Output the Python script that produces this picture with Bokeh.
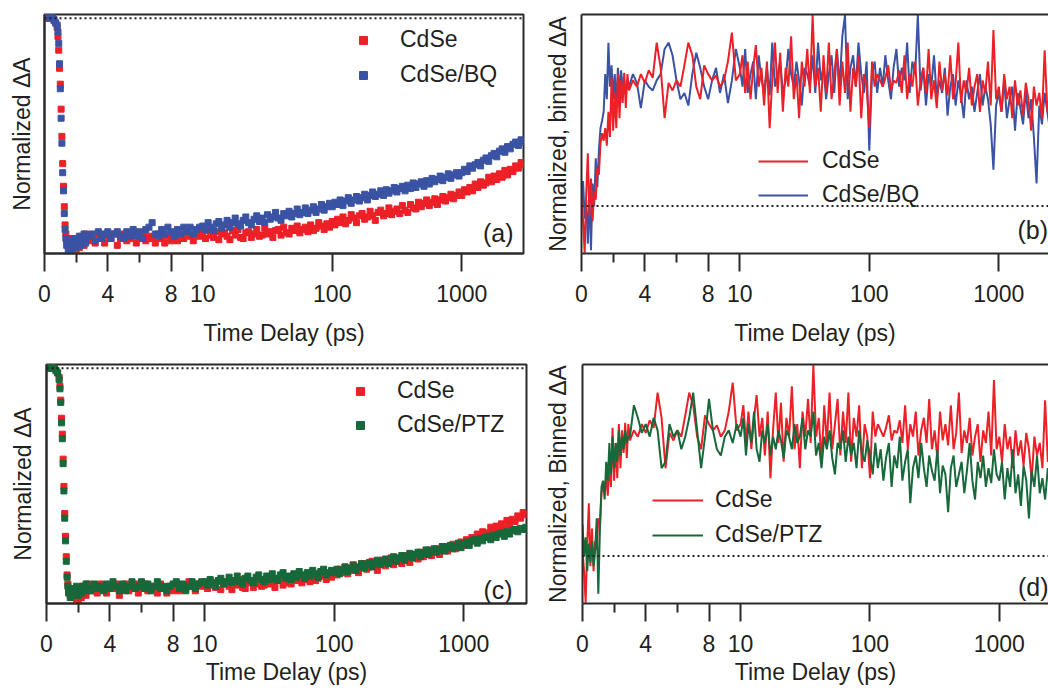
import numpy as np
from bokeh.plotting import figure
from bokeh.models import (ColumnDataSource, FixedTicker, CustomJSTickFormatter,
                          CustomJSTransform, Span, Label, Legend, LegendItem,
                          LinearAxis, Range1d)
from bokeh.transform import transform
from bokeh.layouts import column, row
from bokeh.embed import file_html
from bokeh.resources import INLINE

# ---------------- data (time in ps) ----------------
t_early_scatter = [0.0, 0.1, 0.2, 0.3, 0.4, 0.5, 0.6, 0.7, 0.8,
                   0.85, 0.9, 0.95, 1.0, 1.05, 1.1, 1.15, 1.2, 1.25, 1.3, 1.35,
                   1.4, 1.5, 1.6, 1.7, 1.8, 1.9, 2.0, 2.1, 2.2, 2.3, 2.4, 2.5, 2.6,
                   2.8, 3.0, 3.2, 3.4, 3.6, 3.8, 4.0, 4.2, 4.4, 4.6, 4.8, 5.0, 5.2, 5.4,
                   5.6, 5.8, 6.0, 6.2, 6.4, 6.6, 6.8, 7.0, 7.2, 7.4, 7.6, 7.8, 8.0, 8.2,
                   8.4, 8.6, 8.8, 9.0, 9.2, 9.4, 9.6, 9.8]

t_early_binned = [0.0, 0.1, 0.2, 0.3, 0.4, 0.5, 0.6, 0.7, 0.8, 0.9, 1.0,
                  1.1, 1.2, 1.3, 1.4, 1.5, 1.6, 1.7, 1.8, 1.9, 2.0,
                  2.1, 2.2, 2.3, 2.4, 2.5, 2.6, 2.7, 2.8, 2.9, 3.0,
                  3.25, 3.5, 3.75, 4.0, 4.25, 4.5, 4.75, 5.0, 5.25, 5.5, 5.75, 6.0,
                  6.25, 6.5, 6.75, 7.0, 7.25, 7.5, 7.75, 8.0, 8.25, 8.5, 8.75, 9.0,
                  9.25, 9.5, 9.75]

t_late = [10.0, 10.5, 11.0, 11.5, 12.1, 12.7, 13.3, 14.0, 14.7, 15.4,
          16.2, 17.0, 17.8, 18.7, 19.6, 20.5, 21.5, 22.6, 23.7, 24.9,
          26.1, 27.4, 28.7, 30.1, 31.6, 33.2, 34.8, 36.5, 38.3, 40.2,
          42.2, 44.3, 46.4, 48.7, 51.1, 53.6, 56.2, 59.0, 61.9, 64.9,
          68.1, 71.5, 75.0, 78.7, 82.5, 86.6, 90.9, 95.3,
          100, 105, 110, 115, 121, 127, 133, 140, 147, 154,
          162, 170, 178, 187, 196, 205, 215, 226, 237, 249,
          261, 274, 287, 301, 316, 332, 348, 365, 383, 402,
          422, 443, 464, 487, 511, 536, 562, 590, 619, 649,
          681, 715, 750, 787, 825, 866, 909, 953,
          1000, 1049, 1101, 1155, 1212, 1271, 1334, 1399, 1468, 1540,
          1616, 1695, 1778, 1866, 1957, 2054, 2154, 2260, 2371, 2488,
          2610, 2738, 2873, 3014]

# normalized dA (panels a, c)
cdse_early = [0.01, 0.0, 0.015, 0.02, 0.005, 0.0, -0.01, -0.02, -0.04,
              -0.08, -0.14, -0.22, -0.29, -0.40, -0.52, -0.64, -0.74, -0.83, -0.91, -0.95,
              -0.98, -1.0, -0.97, -1.01, -0.98, -1.02, -1.03, -0.98, -1.01, -0.96, -0.99, -1.0, -0.95,
              -0.98, -0.96, -0.99, -0.95, -0.97, -0.99, -0.96, -0.97, -0.95, -1.0, -0.97, -0.95,
              -0.98, -0.97, -0.95, -0.99, -0.97, -0.95, -0.98, -0.96, -0.97, -0.99, -0.95, -0.97,
              -0.99, -0.96, -0.98, -0.95, -0.98, -0.96, -0.97, -0.94, -0.96, -0.98, -0.95, -0.96]
cdse_late = [-0.945, -0.97, -0.935, -0.955, -0.965, -0.94, -0.975, -0.95, -0.945, -0.96,
             -0.975, -0.935, -0.955, -0.93, -0.965, -0.97, -0.945, -0.94, -0.965, -0.95,
             -0.93, -0.96, -0.955, -0.925, -0.95, -0.94, -0.965, -0.935, -0.93, -0.955,
             -0.92, -0.945, -0.95, -0.925, -0.935, -0.915, -0.945, -0.93, -0.92, -0.94,
             -0.91, -0.935, -0.925, -0.9, -0.915, -0.93, -0.905, -0.92,
             -0.895, -0.91, -0.885, -0.9, -0.875, -0.905, -0.89, -0.865, -0.88, -0.9,
             -0.87, -0.86, -0.885, -0.875, -0.85, -0.87, -0.89, -0.855, -0.845, -0.87,
             -0.86, -0.835, -0.865, -0.85, -0.84, -0.86, -0.825, -0.845, -0.855, -0.82,
             -0.835, -0.84, -0.81, -0.83, -0.815, -0.8, -0.825, -0.81, -0.795, -0.82,
             -0.8, -0.785, -0.805, -0.79, -0.775, -0.795, -0.78, -0.765,
             -0.78, -0.755, -0.765, -0.745, -0.76, -0.73, -0.745, -0.72, -0.735, -0.725,
             -0.7, -0.72, -0.695, -0.71, -0.685, -0.7, -0.67, -0.69, -0.665, -0.675,
             -0.65, -0.66, -0.635, -0.645]

bq_early = [0.015, 0.02, 0.01, 0.0, 0.01, 0.005, -0.005, -0.02, -0.03,
            -0.06, -0.11, -0.20, -0.31, -0.44, -0.55, -0.68, -0.76, -0.86, -0.93, -0.97,
            -1.0, -1.02, -0.98, -1.03, -1.0, -0.97, -1.01, -0.99, -0.96, -1.0, -0.97, -0.95, -0.99,
            -0.96, -0.95, -0.98, -0.94, -0.97, -0.95, -0.94, -0.97, -0.95, -0.94, -0.96, -0.97,
            -0.94, -0.96, -0.93, -0.96, -0.94, -0.97, -0.93, -0.92, -0.90, -0.95, -0.96, -0.93,
            -0.95, -0.92, -0.94, -0.96, -0.93, -0.95, -0.92, -0.94, -0.92, -0.95, -0.93, -0.92]
bq_late = [-0.915, -0.93, -0.9, -0.92, -0.935, -0.905, -0.895, -0.925, -0.91, -0.89,
           -0.92, -0.9, -0.88, -0.905, -0.915, -0.89, -0.875, -0.9, -0.91, -0.885,
           -0.87, -0.895, -0.88, -0.9, -0.865, -0.885, -0.875, -0.855, -0.88, -0.89,
           -0.86, -0.87, -0.85, -0.875, -0.86, -0.84, -0.865, -0.855, -0.835, -0.86,
           -0.845, -0.83, -0.855, -0.84, -0.82, -0.845, -0.83, -0.815,
           -0.83, -0.81, -0.82, -0.8, -0.825, -0.805, -0.79, -0.815, -0.8, -0.785,
           -0.805, -0.79, -0.775, -0.8, -0.78, -0.765, -0.785, -0.775, -0.76, -0.78,
           -0.755, -0.77, -0.76, -0.745, -0.765, -0.75, -0.74, -0.76, -0.735, -0.75,
           -0.725, -0.745, -0.73, -0.72, -0.74, -0.715, -0.73, -0.705, -0.72, -0.71,
           -0.695, -0.715, -0.7, -0.685, -0.705, -0.69, -0.68, -0.695,
           -0.68, -0.665, -0.675, -0.65, -0.66, -0.645, -0.635, -0.65, -0.625, -0.615,
           -0.63, -0.605, -0.595, -0.61, -0.585, -0.575, -0.59, -0.565, -0.575, -0.555,
           -0.545, -0.56, -0.535, -0.545]

ptz_early = [0.01, 0.015, 0.0, 0.01, 0.005, 0.0, -0.01, -0.02, -0.05,
             -0.09, -0.15, -0.24, -0.31, -0.42, -0.54, -0.66, -0.76, -0.85, -0.92, -0.96,
             -0.99, -1.01, -0.97, -1.0, -0.98, -0.96, -1.0, -0.97, -0.99, -0.96, -0.98, -0.95, -0.97,
             -0.98, -0.95, -0.97, -0.96, -0.98, -0.95, -0.97, -0.94, -0.96, -0.98, -0.95, -0.98,
             -0.96, -0.94, -0.97, -0.96, -0.94, -0.97, -0.95, -0.98, -0.96, -0.94, -0.97, -0.96,
             -0.98, -0.96, -0.95, -0.94, -0.97, -0.95, -0.98, -0.96, -0.94, -0.97, -0.95, -0.94]
ptz_late = [-0.94, -0.955, -0.93, -0.945, -0.96, -0.935, -0.925, -0.95, -0.94, -0.92,
            -0.945, -0.935, -0.915, -0.94, -0.95, -0.925, -0.915, -0.935, -0.945, -0.92,
            -0.91, -0.93, -0.94, -0.915, -0.93, -0.905, -0.925, -0.935, -0.91, -0.9,
            -0.925, -0.915, -0.93, -0.905, -0.92, -0.895, -0.91, -0.925, -0.9, -0.915,
            -0.89, -0.905, -0.92, -0.895, -0.885, -0.91, -0.9, -0.89,
            -0.9, -0.885, -0.905, -0.89, -0.875, -0.895, -0.88, -0.87, -0.89, -0.875,
            -0.86, -0.88, -0.865, -0.855, -0.875, -0.86, -0.845, -0.865, -0.85, -0.84,
            -0.86, -0.845, -0.83, -0.85, -0.835, -0.825, -0.845, -0.83, -0.815, -0.835,
            -0.82, -0.81, -0.83, -0.815, -0.8, -0.82, -0.805, -0.795, -0.81, -0.8,
            -0.785, -0.805, -0.79, -0.78, -0.795, -0.785, -0.77, -0.79,
            -0.775, -0.765, -0.78, -0.76, -0.755, -0.77, -0.75, -0.76, -0.745, -0.74,
            -0.755, -0.735, -0.745, -0.73, -0.725, -0.74, -0.72, -0.73, -0.715, -0.71,
            -0.72, -0.705, -0.71, -0.7]

# normalized, binned dA (panels b, d)
cdse_bin_early = [0.05, -0.12, -0.37, 0.1, 0.42, -0.08, 0.22, -0.12, 0.12, 0.05, 0.3,
                  0.25, 0.5, 0.58, 0.52, 0.62, 0.48, 0.75, 0.55, 1.02, 0.6,
                  0.9, 0.62, 1.05, 0.7, 1.0, 0.82, 1.06, 0.78, 1.05, 0.92,
                  1.0, 0.95, 1.05, 0.98, 1.08, 1.02, 1.3, 1.1, 0.7, 0.98, 0.92, 1.0,
                  0.95, 1.12, 1.3, 1.2, 0.95, 0.85, 1.12, 1.05, 1.0, 1.04, 0.95, 1.0,
                  1.15, 1.38, 1.0]
cdse_bin_late = [1.05, 1.2, 0.9, 1.15, 0.85, 1.1, 1.28, 0.95, 1.1, 0.8,
                 1.15, 0.62, 1.0, 1.3, 0.9, 1.22, 0.75, 1.1, 0.95, 1.35,
                 0.85, 1.05, 0.7, 1.15, 0.95, 1.25, 0.9, 1.52, 0.95, 1.1,
                 0.75, 1.2, 0.9, 1.3, 0.85, 1.05, 1.25, 0.8, 1.15, 0.9,
                 1.3, 0.75, 1.1, 0.95, 1.2, 0.7, 1.05, 0.95,
                 0.62, 1.15, 0.95, 1.05, 1.0, 0.95, 1.02, 1.12, 0.92, 1.0,
                 0.98, 1.08, 0.9, 1.2, 0.85, 1.05, 0.95, 1.15, 0.8, 1.0,
                 1.1, 0.9, 1.25, 0.85, 1.0, 0.78, 1.15, 0.92, 1.05, 0.88,
                 1.2, 0.85, 0.98, 1.3, 0.82, 1.0, 0.9, 1.1, 0.8, 0.95,
                 1.05, 0.75, 1.0, 0.9, 1.15, 0.8, 1.4, 0.85,
                 0.95, 0.75, 1.05, 0.85, 0.95, 0.7, 1.0, 0.8, 0.92, 0.72,
                 0.98, 0.85, 0.6, 0.95, 0.8, 0.9, 0.7, 1.24, 0.75, 0.9,
                 0.85, 0.8, 0.9, 0.85]

bq_bin_early = [0.0, 0.2, -0.1, 0.05, -0.3, 0.1, -0.35, 0.18, 0.0, 0.38, 0.15,
                0.45, 0.62, 0.68, 0.75, 1.05, 0.85, 1.3, 0.95, 1.12, 0.85,
                1.05, 0.8, 1.1, 0.9, 1.08, 0.95, 1.0, 0.9, 1.0, 0.95,
                1.05, 0.98, 0.78, 1.0, 0.95, 0.92, 1.0, 1.05, 1.25, 1.3, 1.2, 1.0,
                0.85, 0.9, 0.8, 1.05, 1.22, 1.1, 0.95, 0.85, 1.0, 1.1, 0.9, 1.05,
                0.82, 1.0, 1.25]
bq_bin_late = [1.1, 0.95, 1.25, 0.9, 1.05, 1.15, 0.85, 1.2, 1.0, 0.92,
               1.1, 0.88, 1.3, 0.95, 1.05, 1.15, 0.9, 1.0, 1.25, 1.05,
               0.95, 1.15, 1.0, 0.8, 1.1, 1.05, 0.95, 1.2, 0.9, 1.3,
               1.0, 1.1, 0.85, 1.05, 1.2, 0.9, 1.25, 0.95, 1.35, 1.52,
               0.85, 1.1, 1.2, 0.95, 1.3, 1.05, 0.9, 1.15,
               0.44, 1.05, 1.15, 0.9, 1.1, 0.95, 1.2, 1.0, 0.85, 1.1,
               1.25, 0.95, 1.1, 1.0, 1.3, 0.9, 1.15, 1.05, 1.52, 0.92,
               1.1, 0.8, 1.05, 0.95, 1.2, 0.85, 1.0, 0.9, 1.1, 0.72,
               0.95, 1.05, 0.8, 1.0, 0.88, 0.7, 1.0, 0.85, 0.95, 0.75,
               0.9, 1.05, 0.8, 0.95, 0.85, 0.65, 0.29, 0.8,
               0.9, 0.75, 1.0, 0.7, 0.85, 0.95, 0.6, 0.9, 0.78, 0.65,
               0.92, 0.7, 0.85, 0.55, 0.18, 0.8, 0.65, 0.9, 0.75, 0.6,
               0.85, 0.7, 0.8, 0.75]

ptz_bin_early = [0.25, 0.0, 0.15, -0.12, 0.1, -0.05, 0.12, -0.08, 0.05, 0.3, -0.3,
                 0.2, 0.55, 0.6, 0.45, 0.75, 0.6, 0.9, 0.65, 0.95, 0.7,
                 0.9, 0.75, 1.0, 0.8, 0.95, 0.85, 1.0, 0.9, 0.95, 0.95,
                 1.2, 1.1, 0.98, 1.05, 0.95, 1.1, 1.0, 0.7, 0.75, 1.05, 0.95, 1.0,
                 0.85, 0.95, 1.1, 1.3, 1.0, 0.7, 0.95, 1.25, 1.0, 0.85, 0.8, 0.95,
                 1.0, 0.9, 1.05]
ptz_bin_late = [0.95, 1.1, 0.8, 1.05, 0.9, 1.15, 0.85, 0.75, 1.0, 0.9,
                1.05, 0.8, 0.95, 0.85, 1.0, 0.92, 0.78, 1.0, 0.95, 0.85,
                1.05, 0.9, 0.95, 1.1, 0.85, 1.0, 0.95, 1.15, 0.8, 0.9,
                0.7, 0.95, 0.85, 1.0, 0.78, 0.65, 0.9, 0.85, 1.0, 0.75,
                0.95, 0.8, 0.9, 0.7, 1.0, 0.82, 0.75, 0.92,
                0.8, 0.65, 0.9, 0.7, 0.85, 0.6, 0.78, 0.9, 0.55, 0.8,
                0.7, 0.95, 0.6, 0.75, 0.85, 0.42, 0.7, 0.8, 0.62, 0.9,
                0.7, 0.55, 0.8, 0.68, 0.6, 0.85, 0.5, 0.72, 0.65, 0.35,
                0.7, 0.8, 0.55, 0.65, 0.75, 0.5, 0.68, 0.9, 0.6, 0.45,
                0.75, 0.62, 0.8, 0.55, 0.7, 0.58, 0.85, 0.65,
                0.6, 0.75, 0.45, 0.7, 0.55, 0.85, 0.5, 0.65, 0.4, 0.72,
                0.6, 0.3, 0.68, 0.55, 0.8, 0.5, 0.62, 0.45, 0.7, 0.55,
                0.6, 0.5, 0.65, 0.55]

tick_values = [0, 4, 8, 10, 100, 1000]
minor_tick_values = [2, 6]

# ---------------- styling ----------------
FONT = "Liberation Sans"
FS = "23px"
INK = "#231f20"
FRAME = "#2a2a2a"
RED = "#ec2027"
BLUE = "#3a53a4"
GREEN = "#17683a"
K = 8.18   # axis units per decade after the break at 10 ps


def pos(t):
    return float(t) if t <= 10 else 10.0 + K * float(np.log10(t / 10.0))


brk = CustomJSTransform(
    args=dict(k=K),
    func="return x <= 10 ? x : 10 + k * Math.log10(x / 10);",
    v_func="""
const out = new Array(xs.length);
for (let i = 0; i < xs.length; i++) {
  const t = xs[i];
  out[i] = t <= 10 ? t : 10 + k * Math.log10(t / 10);
}
return out;
""")


def src(t, v):
    n = min(len(t), len(v))
    return ColumnDataSource(data=dict(t=list(t[:n]), v=list(v[:n])))


def panel(width, height, mbl, mbr, mbt, mbb, t_end, yr, ylabel, ystand, xstand, closed):
    p = figure(width=width, height=height, x_range=Range1d(0, pos(t_end)),
               y_range=Range1d(*yr), output_backend="svg", toolbar_location=None,
               title=None, min_border_left=mbl, min_border_right=mbr,
               min_border_top=mbt, min_border_bottom=mbb)
    p.xgrid.visible = False
    p.ygrid.visible = False
    p.background_fill_color = "white"
    p.border_fill_color = "white"
    if closed:
        p.outline_line_color = FRAME
        p.outline_line_width = 2
        p.outline_line_alpha = 1.0
    else:
        p.outline_line_color = None
    xa = p.below[0]
    xa.ticker = FixedTicker(ticks=[pos(t) for t in tick_values],
                            minor_ticks=[pos(t) for t in minor_tick_values])
    xa.formatter = CustomJSTickFormatter(args=dict(k=K), code="""
if (tick <= 10.0001) { return tick.toFixed(0); }
return (10 * Math.pow(10, (tick - 10) / k)).toFixed(0);
""")
    xa.axis_label = "Time Delay (ps)"
    xa.axis_label_text_font = FONT
    xa.axis_label_text_font_size = FS
    xa.axis_label_text_font_style = "normal"
    xa.axis_label_text_color = INK
    xa.axis_label_standoff = xstand
    xa.major_label_text_font = FONT
    xa.major_label_text_font_size = FS
    xa.major_label_text_color = INK
    xa.major_label_standoff = 13
    xa.axis_line_color = FRAME
    xa.axis_line_width = 2
    xa.major_tick_line_color = FRAME
    xa.major_tick_line_width = 2
    xa.minor_tick_line_color = FRAME
    xa.minor_tick_line_width = 2
    xa.major_tick_out = 18
    xa.major_tick_in = 0
    xa.minor_tick_out = 9
    xa.minor_tick_in = 0

    ya = p.left[0]
    ya.ticker = FixedTicker(ticks=[])
    ya.major_tick_out = 0
    ya.major_tick_in = 0
    ya.minor_tick_out = 0
    ya.minor_tick_in = 0
    ya.major_label_standoff = 0
    ya.axis_line_color = FRAME
    ya.axis_line_width = 2
    ya.axis_label = ylabel
    ya.axis_label_text_font = FONT
    ya.axis_label_text_font_size = FS
    ya.axis_label_text_font_style = "normal"
    ya.axis_label_text_color = INK
    ya.axis_label_standoff = ystand

    if not closed:
        top = LinearAxis(ticker=FixedTicker(ticks=[]), axis_line_color=FRAME,
                         axis_line_width=2, major_tick_out=0, major_tick_in=0,
                         minor_tick_out=0, minor_tick_in=0, major_label_standoff=0)
        p.add_layout(top, "above")

    p.add_layout(Span(location=0, dimension="width", line_color=INK,
                      line_width=2, line_dash="2 3"))
    return p


def add_legend(p, items, loc, gw, standoff, spacing):
    lg = Legend(items=[LegendItem(label=l, renderers=[r]) for l, r in items],
                location=loc, orientation="vertical", padding=0, margin=0,
                spacing=spacing, glyph_width=gw, glyph_height=24, label_height=24,
                label_standoff=standoff, label_text_font=FONT,
                label_text_font_size=FS, label_text_color=INK,
                border_line_color=None, background_fill_alpha=0)
    p.add_layout(lg)


def add_tag(p, x, y, text, align):
    p.add_layout(Label(x=x, y=y, text=text, text_align=align, text_baseline="middle",
                       text_font=FONT, text_font_size="25px", text_color=INK))


t_scatter = t_early_scatter + t_late
t_binned = t_early_binned + t_late

YR_A = (-1.036, 0.017)
YR_B = (-0.377, 1.524)

# ---- (a)
pa = panel(530, 360, 44, 7, 14, 107, 3000, YR_A, "Normalized \u0394A", 10, 15, True)
ra1 = pa.scatter(x=transform("t", brk), y="v", source=src(t_scatter, cdse_early + cdse_late),
                 marker="square", size=6, color=RED)
ra2 = pa.scatter(x=transform("t", brk), y="v", source=src(t_scatter, bq_early + bq_late),
                 marker="square", size=6, color=BLUE)
add_legend(pa, [("CdSe", ra1), ("CdSe/BQ", ra2)], (309, 165), 20, 27, 8)
add_tag(pa, 29.63, -0.947, "(a)", "right")

# ---- (b)
pb = panel(518, 360, 51, 0, 14, 107, 2420, YR_B, "Normalized, binned \u0394A", 11, 15, False)
rb2 = pb.line(x=transform("t", brk), y="v", source=src(t_binned, bq_bin_early + bq_bin_late),
              color=BLUE, line_width=2)
rb1 = pb.line(x=transform("t", brk), y="v", source=src(t_binned, cdse_bin_early + cdse_bin_late),
              color=RED, line_width=2)
add_legend(pb, [("CdSe", rb1), ("CdSe/BQ", rb2)], (177, 45), 50, 14, 7)
add_tag(pb, 27.54, -0.187, "(b)", "left")

# ---- (c)
pc = panel(530, 335, 46, 4, 4, 91, 3050, YR_A, "Normalized \u0394A", 11, 4, True)
rc1 = pc.scatter(x=transform("t", brk), y="v", source=src(t_scatter, cdse_early + cdse_late),
                 marker="square", size=6, color=RED)
rc2 = pc.scatter(x=transform("t", brk), y="v", source=src(t_scatter, ptz_early + ptz_late),
                 marker="square", size=6, color=GREEN)
add_legend(pc, [("CdSe", rc1), ("CdSe/PTZ", rc2)], (304, 165), 20, 27, 7)
add_tag(pc, 29.44, -0.977, "(c)", "right")

# ---- (d)
pd = panel(518, 335, 52, 0, 3, 92, 2400, YR_B, "Normalized, Binned \u0394A", 12, 4, False)
rd1 = pd.line(x=transform("t", brk), y="v", source=src(t_binned, cdse_bin_early + cdse_bin_late),
              color=RED, line_width=2)
rd2 = pd.line(x=transform("t", brk), y="v", source=src(t_binned, ptz_bin_early + ptz_bin_late),
              color=GREEN, line_width=2)
add_legend(pd, [("CdSe", rd1), ("CdSe/PTZ", rd2)], (70, 55), 51, 12, 8)
add_tag(pd, 27.54, -0.246, "(d)", "left")

layout = column(row(pa, pb), row(pc, pd))
open("out.html", "w").write(file_html(layout, INLINE))
